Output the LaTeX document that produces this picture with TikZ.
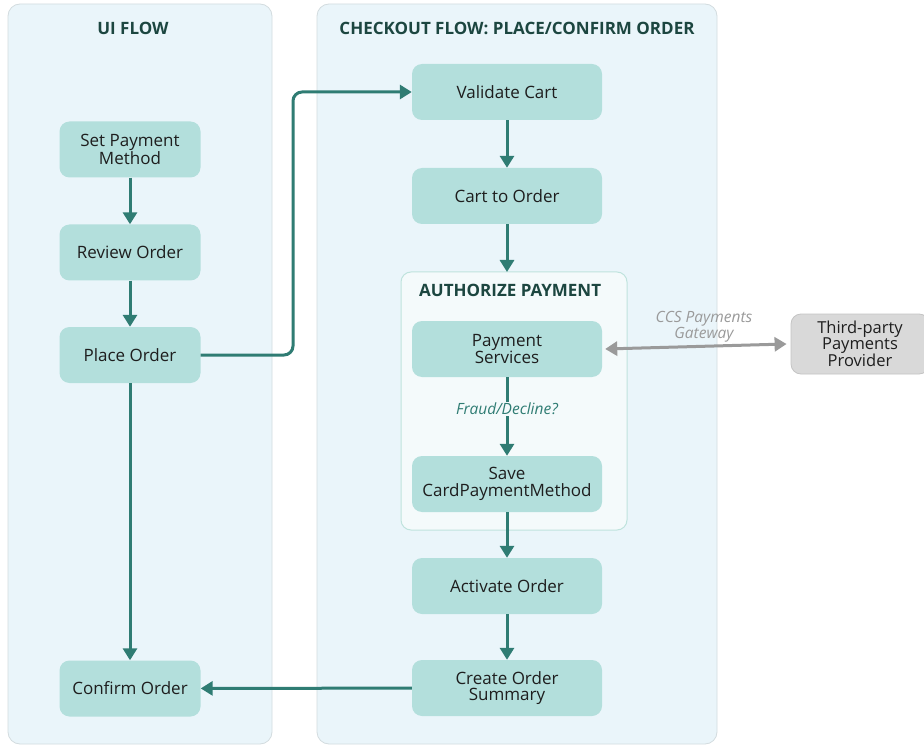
\documentclass[tikz,border=0pt]{standalone}
\usepackage{fontspec}
\setmainfont{Open Sans}
\usetikzlibrary{arrows.meta}
\definecolor{panelfill}{HTML}{EAF5FA}
\definecolor{paneledge}{HTML}{D3DCDF}
\definecolor{authfill}{HTML}{F4FAFB}
\definecolor{authedge}{HTML}{BFE3DD}
\definecolor{stepfill}{HTML}{B3DFDC}
\definecolor{flowline}{HTML}{2F7C73}
\definecolor{titletext}{HTML}{1C4640}
\definecolor{bodytext}{HTML}{1E1E1E}
\definecolor{gwline}{HTML}{9A9A9A}
\definecolor{extfill}{HTML}{D9D9D9}
\definecolor{extedge}{HTML}{C4C4C4}
\tikzset{
  panel/.style={draw=paneledge, fill=panelfill, line width=0.8pt, rounded corners=12pt},
  authbox/.style={draw=authedge, fill=authfill, line width=1pt, rounded corners=10pt},
  stepbox/.style={fill=stepfill, rounded corners=10pt, align=center, inner sep=0pt,
    font=\fontsize{17}{16.5}\selectfont, text=bodytext},
  extbox/.style={draw=extedge, fill=extfill, rounded corners=10pt, align=center, inner sep=0pt,
    line width=0.8pt, font=\fontsize{16.5}{16}\selectfont, text=bodytext},
  title/.style={font=\fontsize{17}{17}\selectfont\bfseries, text=titletext, inner sep=0pt},
  flow/.style={draw=flowline, line width=3pt, -{Triangle[length=12pt,width=14pt]}},
  gateway/.style={draw=gwline, line width=3pt, {Triangle[length=12pt,width=14pt]}-{Triangle[length=12pt,width=14pt]}},
  note/.style={font=\fontsize{15.5}{14}\selectfont\itshape, align=center, inner sep=1pt}
}
\begin{document}
\begin{tikzpicture}[x=1pt, y=-1pt]
  \useasboundingbox (0,0) rectangle (924,746);
  \fill[white] (0,0) rectangle (924,746);

  % swim lanes
  \draw[panel] (8,4) rectangle (272,744);
  \draw[panel] (317,4) rectangle (717,744);
  \node[title] (uititle) at (133,28) {UI FLOW};
  \node[title] (cotitle) at (517,28) {CHECKOUT FLOW: PLACE/CONFIRM ORDER};

  % payment authorization group
  \draw[authbox] (401,272) rectangle (627,530);
  \node[title, anchor=west] (authtitle) at (419,290) {AUTHORIZE PAYMENT};

  % UI steps
  \node[stepbox, minimum width=141pt, minimum height=56pt] (spm) at (130,149.5) {Set Payment\\Method};
  \node[stepbox, minimum width=141pt, minimum height=56pt] (rev) at (130,252.5) {Review Order};
  \node[stepbox, minimum width=141pt, minimum height=56pt] (plc) at (130,355) {Place Order};
  \node[stepbox, minimum width=141pt, minimum height=56pt] (cnf) at (130,688.5) {Confirm Order};

  % checkout steps
  \node[stepbox, minimum width=190pt, minimum height=56pt] (val) at (507,92) {Validate Cart};
  \node[stepbox, minimum width=190pt, minimum height=56pt] (c2o) at (507,196) {Cart to Order};
  \node[stepbox, minimum width=190pt, minimum height=56pt] (pay) at (507,349) {Payment\\Services};
  \node[stepbox, minimum width=190pt, minimum height=56pt] (save) at (507,484) {Save\\CardPaymentMethod};
  \node[stepbox, minimum width=190pt, minimum height=56pt] (act) at (507,586) {Activate Order};
  \node[stepbox, minimum width=190pt, minimum height=56pt] (cos) at (507,688) {Create Order\\Summary};

  % external provider
  \node[extbox, minimum width=138pt, minimum height=60pt] (prov) at (860,344) {Third-party\\Payments\\Provider};

  % UI flow connectors
  \coordinate (bendx) at (293,0);
  \draw[flow] (spm) -- (rev);
  \draw[flow] (rev) -- (plc);
  \draw[flow] (plc) -- (cnf);
  \draw[flow, rounded corners=9pt] (plc.east) -- (plc.east -| bendx) -- (val.west -| bendx) -- (val.west);

  % checkout connectors
  \draw[flow] (val) -- (c2o);
  \draw[flow] (c2o.south) -- (507,272);
  \draw[flow] (pay) -- node[note, fill=authfill, text=flowline, pos=0.4] (fraud) {Fraud/Decline?} (save);
  \draw[flow] (save) -- (act);
  \draw[flow] (act) -- (cos);
  \draw[flow] (cos) -- (cnf);

  % gateway link
  \draw[gateway] ([xshift=3pt]pay.east) -- ([xshift=-4pt]prov.west);
  \node[note, text=gwline] (gw) at (704,327) {CCS Payments\\Gateway};
\end{tikzpicture}
\end{document}
